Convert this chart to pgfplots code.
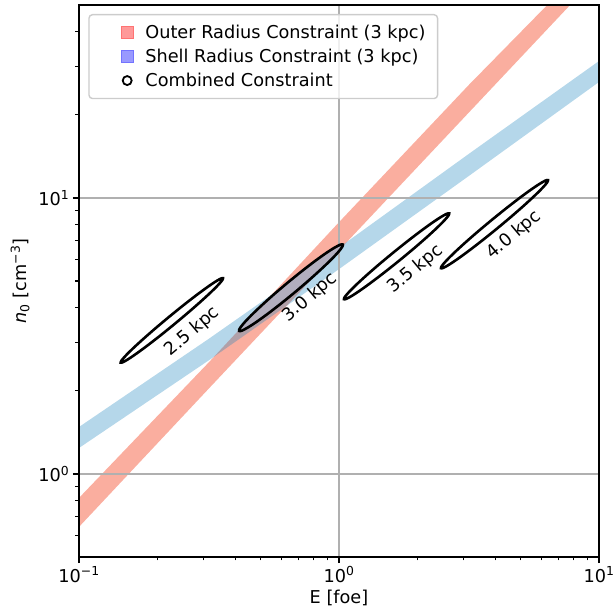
\documentclass[border=0pt]{standalone}
\usepackage{fontspec}
\setmainfont{DejaVu Sans}
\usepackage{pgfplots}
\pgfplotsset{compat=1.18}

\definecolor{bandred}{RGB}{247,120,95}
\definecolor{bandblue}{RGB}{31,133,190}
\definecolor{gridgray}{RGB}{176,176,176}
\definecolor{legedge}{RGB}{204,204,204}
\definecolor{legred}{RGB}{255,128,128}
\definecolor{legblue}{RGB}{128,128,255}
\definecolor{ellfill}{RGB}{178,174,190}
\newcommand\fs{\fontsize{17.7}{21}\selectfont}

% everything is in log10 units: u = log10(E/foe), v = log10(n0/cm^-3)
\begin{document}
\begin{tikzpicture}
\begin{axis}[
    name=ax, at={(0,0)}, anchor=south west,
    scale only axis, width=520pt, height=552pt,
    xmin=-1, xmax=1, ymin=-0.30103, ymax=1.69897,
    set layers, clip mode=individual,
    xtick={-1,0,1},
    xticklabels={10\textsuperscript{−1},10\textsuperscript{0},10\textsuperscript{1}},
    minor xtick={-0.69897,-0.52288,-0.39794,-0.30103,-0.22185,-0.15490,-0.09691,-0.04576,
                 0.30103,0.47712,0.60206,0.69897,0.77815,0.84510,0.90309,0.95424},
    ytick={0,1},
    yticklabels={10\textsuperscript{0},10\textsuperscript{1}},
    minor ytick={-0.22185,-0.15490,-0.09691,-0.04576,
                 0.30103,0.47712,0.60206,0.69897,0.77815,0.84510,0.90309,0.95424,
                 1.30103,1.47712,1.60206},
    xtick pos=bottom, ytick pos=left,
    tick align=outside,
    major tick length=6.2pt, minor tick length=3.5pt,
    major tick style={black, line width=1.4pt},
    minor tick style={black, line width=1.05pt},
    axis line style={line width=1.4pt},
    xmajorgrids, ymajorgrids,
    major grid style={gridgray, line width=1.4pt},
    tick label style={font=\fs},
    xlabel={E [foe]},
    ylabel={\textit{n}\textsubscript{0} [cm\textsuperscript{−3}]},
    every axis x label/.style={at={([yshift=-41pt]axis description cs:0.5,0)}, anchor=center, font=\fs},
    every axis y label/.style={at={([xshift=-59pt]axis description cs:0,0.5)}, anchor=center, rotate=90, font=\fs},
    legend cell align=left,
    legend image code/.code={\path (0pt,0pt) (35pt,0pt);
        \draw[#1] plot coordinates {(27.5pt,0pt)};},
    legend style={at={(0,1)}, anchor=north west, xshift=9.3pt, yshift=-9pt,
        draw=legedge, line width=1.4pt, rounded corners=3.5pt,
        fill=white, fill opacity=0.8, text opacity=1, draw opacity=1,
        font=\fs, inner xsep=10pt, inner ysep=8.5pt, row sep=5pt,
        /tikz/every odd column/.append style={column sep=8pt}},
]
% Outer radius constraint band
\addplot[on layer=axis background, draw=none, fill=bandred, fill opacity=0.6, forget plot]
coordinates {(-1,-0.087) (-0.5,0.405) (0,0.912) (0.5,1.41) (1,1.89)
             (1,1.81) (0.5,1.31) (0,0.81) (-0.5,0.31) (-1,-0.192)} --cycle;
% Shell radius constraint band
\addplot[on layer=axis background, draw=none, fill=bandblue, fill opacity=0.33, forget plot]
coordinates {(-1,0.170) (-0.5,0.49) (0,0.82) (0.5,1.16) (1,1.496)
             (1,1.420) (0.5,1.08) (0,0.742) (-0.5,0.412) (-1,0.094)} --cycle;

% combined constraint ellipses
\addplot[black, line width=2.6pt, smooth, forget plot] coordinates {
(-0.6539,0.5688) (-0.7044,0.5288) (-0.7508,0.4906) (-0.7898,0.4570) (-0.8187,0.4301)
(-0.8358,0.4118) (-0.8396,0.4033) (-0.8301,0.4052) (-0.8077,0.4175) (-0.7742,0.4392)
(-0.7318,0.4688) (-0.6832,0.5044) (-0.6319,0.5436) (-0.5814,0.5836) (-0.5350,0.6218)
(-0.4960,0.6554) (-0.4671,0.6823) (-0.4500,0.7006) (-0.4462,0.7091) (-0.4557,0.7072)
(-0.4781,0.6949) (-0.5116,0.6732) (-0.5540,0.6436) (-0.6026,0.6080) (-0.6539,0.5688)};
\addplot[black, line width=2.6pt, fill=ellfill, smooth, forget plot] coordinates {
(-0.1995,0.6914) (-0.2506,0.6503) (-0.2972,0.6108) (-0.3362,0.5758) (-0.3648,0.5475)
(-0.3812,0.5277) (-0.3842,0.5181) (-0.3736,0.5191) (-0.3502,0.5307) (-0.3154,0.5520)
(-0.2718,0.5818) (-0.2222,0.6179) (-0.1701,0.6578) (-0.1190,0.6989) (-0.0724,0.7384)
(-0.0334,0.7734) (-0.0048,0.8017) (0.0116,0.8215) (0.0146,0.8311) (0.0040,0.8301)
(-0.0194,0.8185) (-0.0542,0.7972) (-0.0978,0.7674) (-0.1474,0.7313) (-0.1995,0.6914)};
\addplot[black, line width=2.6pt, smooth, forget plot] coordinates {
(0.2093,0.8024) (0.1573,0.7617) (0.1097,0.7228) (0.0698,0.6884) (0.0402,0.6608)
(0.0229,0.6419) (0.0192,0.6330) (0.0293,0.6347) (0.0524,0.6468) (0.0871,0.6686)
(0.1309,0.6986) (0.1809,0.7347) (0.2337,0.7744) (0.2857,0.8151) (0.3333,0.8540)
(0.3732,0.8884) (0.4028,0.9160) (0.4201,0.9349) (0.4238,0.9438) (0.4137,0.9421)
(0.3906,0.9300) (0.3559,0.9082) (0.3121,0.8782) (0.2621,0.8421) (0.2093,0.8024)};
\addplot[black, line width=2.6pt, smooth, forget plot] coordinates {
(0.5859,0.9189) (0.5330,0.8771) (0.4846,0.8372) (0.4439,0.8019) (0.4138,0.7737)
(0.3961,0.7543) (0.3923,0.7453) (0.4025,0.7471) (0.4260,0.7597) (0.4612,0.7821)
(0.5058,0.8130) (0.5566,0.8501) (0.6103,0.8909) (0.6632,0.9327) (0.7116,0.9726)
(0.7523,1.0079) (0.7824,1.0361) (0.8001,1.0555) (0.8039,1.0645) (0.7937,1.0627)
(0.7702,1.0501) (0.7350,1.0277) (0.6904,0.9968) (0.6396,0.9597) (0.5859,0.9189)};

\node[rotate=40, font=\fs] at (axis cs:-0.5642,0.5156) {2.5 kpc};
\node[rotate=40, font=\fs] at (axis cs:-0.1115,0.6388) {3.0 kpc};
\node[rotate=40, font=\fs] at (axis cs:0.2950,0.7417) {3.5 kpc};
\node[rotate=40, font=\fs] at (axis cs:0.6731,0.8659) {4.0 kpc};

\addlegendimage{only marks, mark=square*, mark size=5.8pt, mark options={fill=legred, draw=legred!90!red, line width=1pt}}
\addlegendentry{Outer Radius Constraint (3 kpc)}
\addlegendimage{only marks, mark=square*, mark size=5.8pt, mark options={fill=legblue, draw=legblue!90!blue, line width=1pt}}
\addlegendentry{Shell Radius Constraint (3 kpc)}
\addlegendimage{only marks, mark=*, mark size=4.5pt, mark options={fill=white, draw=black, line width=1.8pt}}
\addlegendentry{Combined Constraint}
\end{axis}
\pgfresetboundingbox
\path[use as bounding box] (-79pt,-54pt) rectangle (535pt,557pt);
\end{tikzpicture}
\end{document}
